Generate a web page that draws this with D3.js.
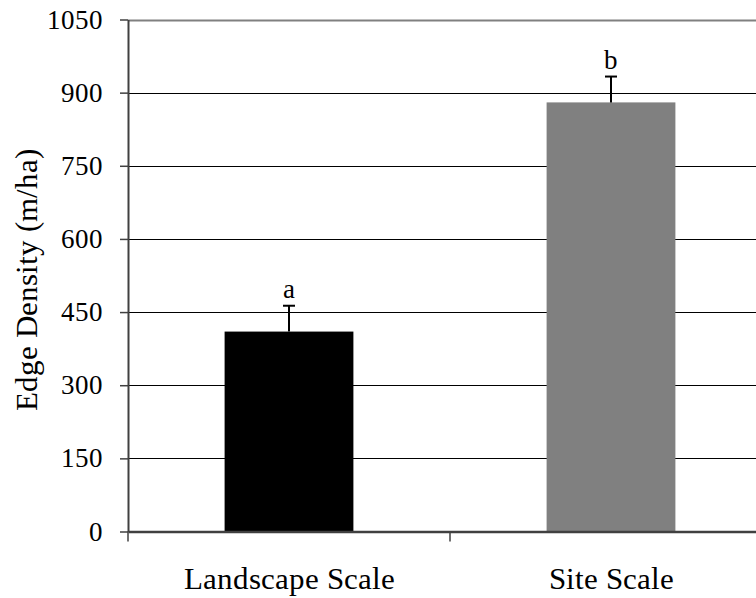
<!DOCTYPE html>
<html><head><meta charset="utf-8">
<script src="https://cdn.jsdelivr.net/npm/d3@7"></script>
<style>
@font-face{font-family:"ChartSerif";src:local("Liberation Serif"),local("LiberationSerif"),local("LiberationSerif-Regular"),local("Liberation Serif Regular"),local("Times New Roman"),local("TimesNewRomanPSMT");}
body{margin:0;background:#fff}svg{display:block}
</style>
</head><body><svg id="c" width="756" height="598"></svg>
<script>
const categories = ["Landscape Scale", "Site Scale"];
const values = [410, 880];
const errors = [53, 53];
const letters = ["a", "b"];
const yTicks = [0, 150, 300, 450, 600, 750, 900, 1050];
const colors = ["#000000", "#808080"];

const FONT = "ChartSerif, 'Liberation Serif', 'DejaVu Serif'";
const svg = d3.select("#c");
const m = {l: 128, r: 772, t: 19.5, b: 531.5};
const x = d3.scaleBand().domain(categories).range([m.l, m.r]).paddingInner(0).paddingOuter(0);
const y = d3.scaleLinear().domain([0, 1050]).range([m.b, m.t]);

// gridlines
svg.append("g").selectAll("line").data(yTicks.filter(d => d > 0)).join("line")
  .attr("x1", m.l).attr("x2", m.r).attr("y1", d => Math.round(y(d)) + 0.5).attr("y2", d => Math.round(y(d)) + 0.5)
  .attr("stroke", d => d === 1050 ? "#808080" : "#000").attr("stroke-width", d => d === 1050 ? 2 : 1);

// bars
const bw = x.bandwidth() * 0.4;
svg.append("g").selectAll("rect").data(categories).join("rect")
  .attr("x", d => x(d) + x.bandwidth() / 2 - bw / 2).attr("width", bw)
  .attr("y", (d, i) => y(values[i])).attr("height", (d, i) => y(0) - y(values[i]))
  .attr("fill", (d, i) => colors[i]);

// error bars and letters
const eg = svg.append("g").attr("stroke", "#000").attr("stroke-width", 2);
categories.forEach((c, i) => {
  const cx = x(c) + x.bandwidth() / 2;
  eg.append("line").attr("x1", cx).attr("x2", cx).attr("y1", y(values[i])).attr("y2", y(values[i] + errors[i]));
  eg.append("line").attr("x1", cx - 6).attr("x2", cx + 6).attr("y1", y(values[i] + errors[i])).attr("y2", y(values[i] + errors[i]));
  svg.append("text").attr("x", cx).attr("y", y(values[i] + errors[i]) - 8).attr("text-anchor", "middle")
    .style("font-family", FONT).style("font-size", "27px").attr("fill", "#000").text(letters[i]);
});

// y axis
const ya = d3.axisLeft(y).tickValues(yTicks).tickFormat(d3.format("d")).tickSize(8).tickPadding(17).tickSizeOuter(0);
const yg = svg.append("g").attr("transform", `translate(${m.l},0)`).call(ya);
yg.select(".domain").attr("stroke", "#404040").attr("stroke-width", 2);
yg.selectAll(".tick line").attr("stroke", "#404040").attr("stroke-width", 1.5);
yg.selectAll(".tick text").attr("fill", "#000").style("font-family", FONT).style("font-size", "27px");

// x axis
const xa = d3.axisBottom(x).tickSize(0).tickPadding(0).tickFormat(() => "");
const xg = svg.append("g").attr("transform", `translate(0,${m.b})`).call(xa);
xg.select(".domain").attr("stroke", "#404040").attr("stroke-width", 2.5);
const bounds = [m.l, x(categories[1])];
svg.append("g").selectAll("line").data(bounds).join("line")
  .attr("x1", d => d).attr("x2", d => d).attr("y1", m.b).attr("y2", m.b + 10)
  .attr("stroke", "#404040").attr("stroke-width", 1.5);
svg.append("g").selectAll("text").data(categories).join("text")
  .attr("x", d => x(d) + x.bandwidth() / 2).attr("y", 589).attr("text-anchor", "middle")
  .style("font-family", FONT).style("font-size", "31px").attr("fill", "#000").text(d => d);

// y title
svg.append("text").attr("transform", "translate(37,280) rotate(-90)").attr("text-anchor", "middle")
  .style("font-family", FONT).style("font-size", "31px").attr("fill", "#000").text("Edge Density (m/ha)");
</script></body></html>
